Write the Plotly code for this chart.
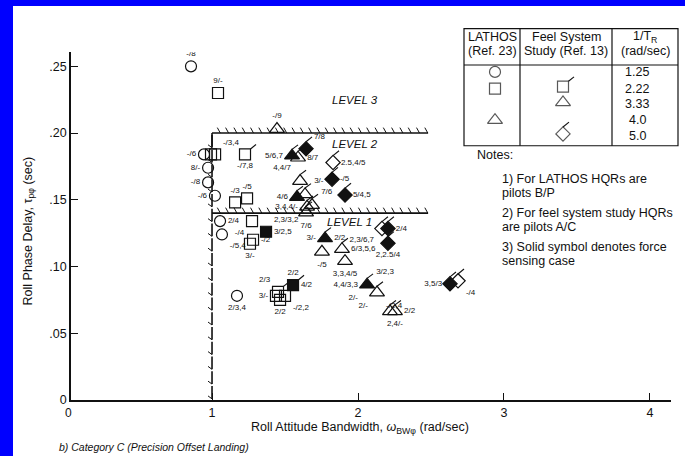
import plotly.graph_objects as go

# ---------------- figure geometry (pixels) ----------------
FIG_W, FIG_H = 685, 463
AX_L, AX_R, AX_T, AX_B = 71, 671, 53, 406
X_RANGE = [0.034, 4.144]
Y_RANGE = [0.0, 0.2606]
PX_X = (X_RANGE[1] - X_RANGE[0]) / (AX_R - AX_L)   # data units per pixel
PX_Y = (Y_RANGE[1] - Y_RANGE[0]) / (AX_B - AX_T)
FONT = "Liberation Sans"
INK = "#111111"

# ---------------- axes ----------------
x_ticks = [1, 2, 3, 4]
y_ticks = [0, 0.05, 0.10, 0.15, 0.20, 0.25]
y_tick_text = ["0", ".05", ".10", ".15", ".20", ".25"]

# ---------------- level boundaries ----------------
bw_min = 1.0        # rad/sec
bw_end = 2.48
tau_lvl1 = 0.14     # sec
tau_lvl2 = 0.20

# ---------------- LATHOS (Ref. 23) ----------------
# 1/T_R = 1.25 : circles
lc_x = [0.856, 0.945, 0.973, 0.973, 1.020, 1.055, 1.068, 1.171]
lc_y = [0.250, 0.184, 0.174, 0.163, 0.153, 0.134, 0.124, 0.078]
lc_force = [0, 0, 0, 0, 0, 0, 0, 0]
lc_hqr = [["-/8"], ["-/6"], ["8/-"], ["-/8"], ["-/6"], ["2/4"], ["-/5,4"], ["2/3,4"]]

# 1/T_R = 2.22 : squares
ls_x = [1.041, 0.993, 1.021, 1.158, 1.240, 1.274, 1.281, 1.260, 1.438, 1.466, 1.370]
ls_y = [0.230, 0.184, 0.184, 0.148, 0.151, 0.134, 0.120, 0.117, 0.078, 0.075, 0.126]
ls_force = [0, 0, 0, 0, 0, 0, 0, 0, 0, 0, 1]
ls_hqr = [["9/-"], [], ["-/3,4"], ["-/3"], ["-/5"], ["-/4"], ["-/2"], ["3/-"],
          ["3/-"], ["2/2"], ["2,3/3,2", "3/2,5"]]

# 1/T_R = 4.0 : triangles
lt_x = [1.445, 1.753, 1.911]
lt_y = [0.203, 0.111, 0.104]
lt_force = [0, 0, 0]
lt_hqr = [["-/9"], ["-/5"], ["3,3,4/5"]]

# ---------------- Feel System Study (Ref. 13) ----------------
# 1/T_R = 2.22 : flagged squares
fs_x = [1.226, 1.452, 1.500, 1.555]
fs_y = [0.184, 0.081, 0.078, 0.086]
fs_force = [0, 0, 0, 1]
fs_hqr = [["-/7,8"], ["2/3"], ["-/2,2"], ["2/2", "4/2"]]

# 1/T_R = 3.33 : flagged triangles
ft_x = [1.548, 1.589, 1.603, 1.582, 1.637, 1.651, 1.685, 1.644,
        1.774, 1.890, 2.062, 2.130, 2.219, 2.253]
ft_y = [0.183, 0.1815, 0.164, 0.152, 0.154, 0.1447, 0.146, 0.1403,
        0.121, 0.113, 0.0863, 0.0804, 0.0664, 0.0664]
ft_force = [1, 0, 0, 1, 0, 0, 0, 0, 1, 0, 1, 0, 0, 0]
ft_hqr = [["5/6,7"], ["8/7"], ["4,4/7"], ["4/6"], ["3/-"], ["3,4,4/-"], ["7/6"], ["7/6"],
          ["3/-", "2/2"], ["6/3,5,6"], ["4,4/3,3", "3/2,3", "2/-"], ["2/-", "-/2,4"],
          [], ["2/2", "2,4/-"]]

# 1/T_R = 5.0 : flagged diamonds
fd_x = [1.644, 1.829, 1.822, 1.911, 2.164, 2.205, 2.205, 2.630, 2.685]
fd_y = [0.1883, 0.1779, 0.1654, 0.1535, 0.1284, 0.1284, 0.1173, 0.0870, 0.0892]
fd_force = [1, 0, 1, 1, 0, 1, 1, 1, 0]
fd_hqr = [["7/8"], ["2.5,4/5"], ["-/5"], ["5/4,5"], ["2,3/6,7"], ["2/4"], ["2,2.5/4"],
          ["3,5/3"], ["-/4"]]

# ---------------- legend table ----------------
tr_values = ["1.25", "2.22", "3.33", "4.0", "5.0"]
lathos_rows = [0, 1, 3]      # circle, square, triangle
feel_rows = [1, 2, 4]        # square, triangle, diamond

notes = ["1) For LATHOS HQRs are", "pilots B/P",
         "2) For feel system study HQRs", "are pilots A/C",
         "3) Solid symbol denotes force", "sensing case"]

# label placement around each symbol
lc_pos = [["top center"], ["middle left"], ["middle left"], ["middle left"], ["middle left"],
          ["middle right"], ["bottom right"], ["bottom center"]]
ls_pos = [["top center"], [], ["top right"], ["top center"], ["top center"], ["bottom left"],
          ["middle right"], ["bottom center"], ["middle left"], ["bottom center"],
          ["top right", "middle right"]]
lt_pos = [["top center"], ["bottom center"], ["bottom center"]]
fs_pos = [["bottom center"], ["top left"], ["bottom right"], ["top center", "middle right"]]
ft_pos = [["middle left"], ["middle right"], ["top left"], ["middle left"], ["top right"],
          ["middle left"], ["top right"], ["bottom center"], ["middle left", "middle right"],
          ["middle right"], ["middle left", "top right", "bottom left"],
          ["bottom left", "bottom right"], [], ["middle right", "bottom center"]]
fd_pos = [["top right"], ["middle right"], ["middle right"], ["middle right"], ["bottom left"],
          ["middle right"], ["bottom center"], ["middle left"], ["bottom right"]]

fig = go.Figure()


def add_group(x, y, force, hqr, pos, symbol, size, flag=None):
    """Open/solid symbols, optional feel-system flag and HQR labels."""
    if flag:
        (ax, ay), (bx, by) = flag
        fx, fy = [], []
        for xi, yi in zip(x, y):
            fx += [xi + ax * PX_X, xi + bx * PX_X, None]
            fy += [yi + ay * PX_Y, yi + by * PX_Y, None]
        fig.add_trace(go.Scatter(x=fx, y=fy, mode="lines",
                                 line=dict(color=INK, width=1.1), hoverinfo="skip"))
    for solid in (0, 1):
        idx = [i for i in range(len(x)) if force[i] == solid]
        if not idx:
            continue
        fig.add_trace(go.Scatter(
            x=[x[i] for i in idx], y=[y[i] for i in idx], mode="markers",
            marker=dict(symbol=symbol if solid else symbol + "-open", size=size,
                        color=INK, line=dict(width=1.2, color=INK)),
            hoverinfo="skip"))
    lx, ly, lt, lp = [], [], [], []
    for i in range(len(x)):
        for t, p in zip(hqr[i], pos[i]):
            lx.append(x[i]); ly.append(y[i]); lt.append(t); lp.append(p)
    fig.add_trace(go.Scatter(
        x=lx, y=ly, text=lt, textposition=lp, mode="markers+text",
        marker=dict(size=size, color="rgba(0,0,0,0)"),
        textfont=dict(family=FONT, size=8, color=INK), hoverinfo="skip"))


# ---------------- hatched level boundaries ----------------
bx_, by_ = [], []          # boundary strokes
tx_, ty_ = [], []          # hatch ticks
n_h = int((bw_end - bw_min) / (8.3 * PX_X))
for tau in (tau_lvl2, tau_lvl1):
    bx_ += [bw_min, bw_end, None]
    by_ += [tau, tau, None]
    for k in range(1, n_h + 1):
        xb = bw_min + k * 8.3 * PX_X
        tx_ += [xb - 3 * PX_X, xb, None]
        ty_ += [tau + 5.5 * PX_Y, tau, None]
n_v = int(tau_lvl2 / (15 * PX_Y))
for k in range(n_v):
    yb = k * 15 * PX_Y + 1 * PX_Y
    bx_ += [bw_min, bw_min, None]
    by_ += [min(yb + 13 * PX_Y, tau_lvl2), yb, None]
    tx_ += [bw_min, bw_min - 4 * PX_X, None]
    ty_ += [yb, yb + 3 * PX_Y, None]
bx_ += [bw_min, bw_min, None]
by_ += [tau_lvl2 - 14 * PX_Y, tau_lvl2, None]
fig.add_trace(go.Scatter(x=bx_, y=by_, mode="lines", line=dict(color=INK, width=1.6),
                         hoverinfo="skip"))
fig.add_trace(go.Scatter(x=tx_, y=ty_, mode="lines", line=dict(color=INK, width=1.0),
                         hoverinfo="skip"))

# ---------------- data ----------------
add_group(lc_x, lc_y, lc_force, lc_hqr, lc_pos, "circle", 11)
add_group(ls_x, ls_y, ls_force, ls_hqr, ls_pos, "square", 11)
add_group(lt_x, lt_y, lt_force, lt_hqr, lt_pos, "triangle-up", 13)
add_group(fs_x, fs_y, fs_force, fs_hqr, fs_pos, "square", 11, flag=((5.5, 5.5), (11, 10)))
add_group(ft_x, ft_y, ft_force, ft_hqr, ft_pos, "triangle-up", 13, flag=((0, 6.5), (6, 11)))
add_group(fd_x, fd_y, fd_force, fd_hqr, fd_pos, "diamond", 11, flag=((0, 7), (6, 12)))

# ---------------- legend table symbols (pixel overlay axes) ----------------
row_px = [73, 90, 106, 122, 138]
col_lathos, col_feel = 495, 563
lathos_syms = ["circle-open", "square-open", "triangle-up-open"]
feel_syms = ["square-open", "triangle-up-open", "diamond-open"]
feel_flags = [((5.5, 5.5), (11, 10)), None, ((0, 7), (6, 12))]
fig.add_trace(go.Scatter(
    x=[col_lathos] * 3, y=[row_px[r] for r in lathos_rows], mode="markers",
    marker=dict(symbol=lathos_syms, size=[11, 11, 13], color=INK, line=dict(width=1.2)),
    xaxis="x2", yaxis="y2", hoverinfo="skip"))
fig.add_trace(go.Scatter(
    x=[col_feel] * 3, y=[row_px[r] - 2 for r in feel_rows], mode="markers",
    marker=dict(symbol=feel_syms, size=[11, 13, 11], color=INK, line=dict(width=1.2)),
    xaxis="x2", yaxis="y2", hoverinfo="skip"))
gx, gy = [], []
for r, fl in zip(feel_rows, feel_flags):
    if fl:
        (ax, ay), (bx, by) = fl
        gx += [col_feel + ax, col_feel + bx, None]
        gy += [row_px[r] - 2 - ay, row_px[r] - 2 - by, None]
fig.add_trace(go.Scatter(x=gx, y=gy, mode="lines", line=dict(color=INK, width=1.1),
                         xaxis="x2", yaxis="y2", hoverinfo="skip"))


def P(px, py):
    return px / FIG_W, 1 - py / FIG_H


ann = []


def text(px, py, s, size=12, xanchor="center", angle=0):
    x, y = P(px, py)
    ann.append(dict(x=x, y=y, xref="paper", yref="paper", text=s, showarrow=False,
                    xanchor=xanchor, yanchor="middle", textangle=angle,
                    font=dict(family=FONT, size=size, color=INK)))


# level labels (data coordinates)
for lbl, lx_, ly_ in [("LEVEL 3", 1.98, 0.225), ("LEVEL 2", 1.98, 0.1915), ("LEVEL 1", 1.945, 0.1335)]:
    ann.append(dict(x=lx_, y=ly_, xref="x", yref="y", text="<i>" + lbl + "</i>", showarrow=False,
                    font=dict(family=FONT, size=11.5, color=INK)))

text(68, 419, "0", 12)
text(360, 435, "Roll Attitude Bandwidth, <i>ω</i><sub>BWφ</sub> (rad/sec)", 12.5)
text(29, 235, "Roll Phase Delay, τ<sub>pφ</sub> (sec)", 12.5, angle=-90)
text(57, 454, "<i>b) Category C (Precision Offset Landing)</i>", 10.5, xanchor="left")

# table text
text(492, 38, "LATHOS", 12.5); text(492, 52, "(Ref. 23)", 12.5)
text(566, 38, "Feel System", 12.5); text(566, 52, "Study (Ref. 13)", 12.5)
text(645, 38, "1/T<sub>R</sub>", 12.5); text(645, 52, "(rad/sec)", 12.5)
for v, ry in zip(tr_values, row_px):
    text(637, ry, v, 12.5)

text(475, 157, "Notes:", 12.5, xanchor="left")
for s, ny in zip(notes, [182, 196, 216, 230, 251, 265]):
    text(500, ny, s, 12.5, xanchor="left")

# table frame, blue edge strips
shapes = []


def rect_px(x0, y0, x1, y1, **kw):
    a, b = P(x0, y1)
    c, d = P(x1, y0)
    shapes.append(dict(type="rect", xref="paper", yref="paper", x0=a, y0=b, x1=c, y1=d, **kw))


def line_px(x0, y0, x1, y1):
    a, b = P(x0, y0)
    c, d = P(x1, y1)
    shapes.append(dict(type="line", xref="paper", yref="paper", x0=a, y0=b, x1=c, y1=d,
                       line=dict(color=INK, width=1.2)))


rect_px(464, 29, 678, 148, line=dict(color=INK, width=1.2))
line_px(464, 66, 678, 66)
line_px(520, 29, 520, 148)
line_px(612, 29, 612, 148)
rect_px(0, 0, 13, FIG_H, fillcolor="#0000ff", line=dict(width=0))
rect_px(0, 0, FIG_W, 6, fillcolor="#0000ff", line=dict(width=0))

axis_common = dict(ticks="inside", ticklen=7, tickwidth=1.3, tickcolor=INK, showline=True,
                   linecolor=INK, linewidth=1.5, showgrid=False, zeroline=False,
                   tickfont=dict(family=FONT, size=12.5, color=INK))
fig.update_layout(
    width=FIG_W, height=FIG_H, margin=dict(l=0, r=0, t=0, b=0),
    paper_bgcolor="white", plot_bgcolor="rgba(0,0,0,0)", showlegend=False,
    xaxis=dict(domain=[AX_L / FIG_W, AX_R / FIG_W], range=X_RANGE, tickvals=x_ticks,
               anchor="y", **axis_common),
    yaxis=dict(domain=[1 - AX_B / FIG_H, 1 - AX_T / FIG_H], range=Y_RANGE, tickvals=y_ticks,
               ticktext=y_tick_text, anchor="x", **axis_common),
    xaxis2=dict(domain=[0, 1], range=[0, FIG_W], visible=False, anchor="y2"),
    yaxis2=dict(domain=[0, 1], range=[FIG_H, 0], visible=False, anchor="x2"),
    annotations=ann, shapes=shapes,
)

fig.write_html("out.html")
